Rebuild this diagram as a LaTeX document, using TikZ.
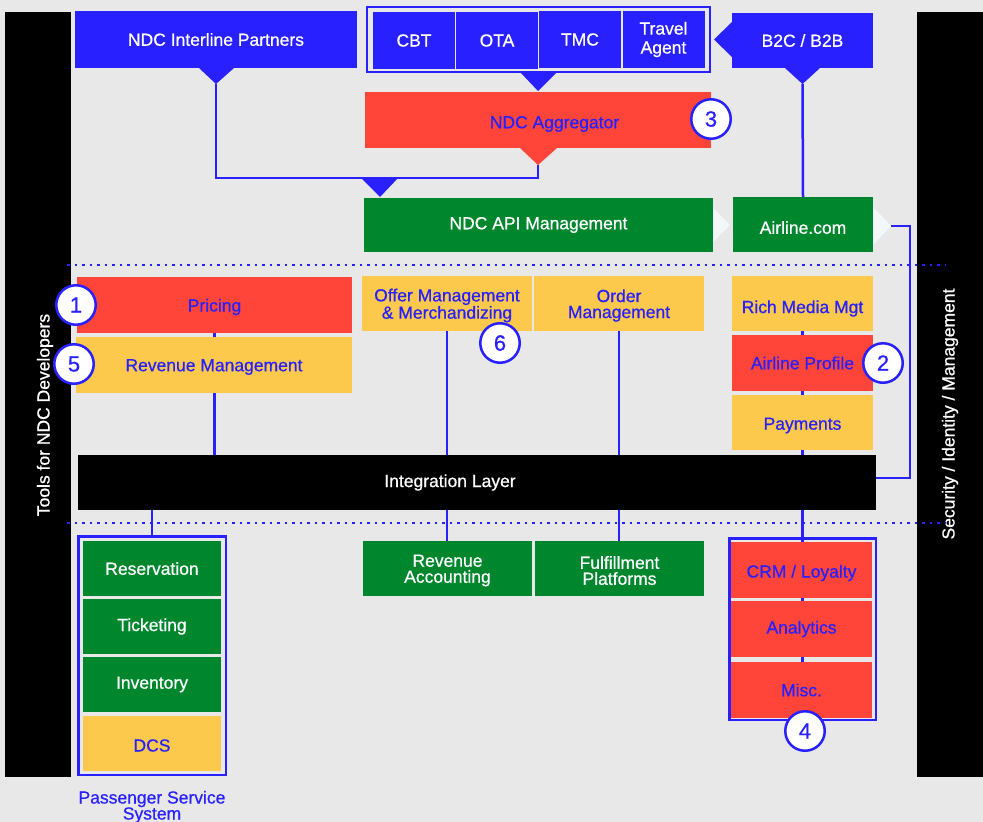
\documentclass[tikz,border=0pt]{standalone}
\usepackage{fontspec}
\setmainfont{Liberation Sans}[BoldFont={Liberation Sans},BoldFeatures={FakeBold=0.7}]
\definecolor{ndcblue}{RGB}{40,32,255}
\definecolor{ndcred}{RGB}{255,69,58}
\definecolor{ndcyellow}{RGB}{252,201,77}
\definecolor{ndcgreen}{RGB}{0,135,45}
\definecolor{ndcgrey}{RGB}{232,232,232}
\definecolor{ndcpale}{RGB}{242,248,250}
\newcommand\dropby[2]{\raisebox{-#1pt}[\height][\depth]{#2}}
\pgfdeclarelayer{back}
\pgfdeclarelayer{wires}
\pgfsetlayers{back,wires,main}

\begin{document}
\begin{tikzpicture}[x=1pt,y=-1pt,font=\fontsize{17.5}{16}\selectfont\bfseries,
    blk/.style 2 args={inner sep=0pt,outer sep=0pt,minimum width=#1pt,minimum height=#2pt,align=center},
    bluebox/.style={fill=ndcblue,text=white},
    redbox/.style={fill=ndcred,text=ndcblue},
    yellowbox/.style={fill=ndcyellow,text=ndcblue},
    greenbox/.style={fill=ndcgreen,text=white},
    groupframe/.style={draw=ndcblue,line width=2.5pt},
    link/.style={draw=ndcblue,line width=2.5pt},
    divider/.style={ndcblue,line width=2.7pt,dash pattern=on 2.7pt off 4.8pt},
    badge/.style={circle,fill=white,draw=ndcblue,line width=2.5pt,minimum size=39.5pt,inner sep=0pt,text=ndcblue,font=\fontsize{22}{22}\selectfont\bfseries}]
  \useasboundingbox (0,0) rectangle (983,822);
  \begin{pgfonlayer}{back}
    \fill[ndcgrey] (0,0) rectangle (983,822);
  \end{pgfonlayer}

  % side bars
  \node[blk={66}{765},fill=black] (toolsbar) at (38,394.5) {};
  \node[blk={66}{765},fill=black] (secbar) at (950,394.5) {};
  \node[rotate=90,text=white] (toolstext) at (45,415) {Tools for NDC Developers};
  \node[rotate=90,text=white] (sectext) at (950,414) {Security / Identity / Management};

  % channels
  \node[blk={282}{57},bluebox] (interline) at (216,39.5) {NDC Interline Partners};
  \node[blk={343}{65},groupframe,line width=2pt] (chanframe) at (538,39.5) {};
  \node[blk={82}{57},bluebox] (cbt) at (414,40.5) {CBT};
  \node[blk={82}{57},bluebox] (ota) at (497,40.5) {OTA};
  \node[blk={82}{57},bluebox] (tmc) at (580,39.5) {TMC};
  \node[blk={82}{57},bluebox,font=\fontsize{17.5}{19}\selectfont\bfseries] (travel) at (663.5,39.5) {Travel\\Agent};
  \node[blk={141}{55},bluebox] (b2c) at (802.5,40.5) {B2C / B2B};
  \node[blk={346}{56},redbox] (aggregator) at (538,120) {\hspace*{33pt}\dropby{4}{NDC Aggregator}};
  \node[blk={349}{54},greenbox] (apimgmt) at (538.5,225) {NDC API Management};
  \node[blk={140}{55},greenbox] (airline) at (803,224.5) {\dropby{3}{Airline.com}};

  % pointers
  \fill[ndcblue] (199,68) -- (216,84) -- (234,68) -- cycle;
  \fill[ndcblue] (520,72) -- (538,91) -- (557,72) -- cycle;
  \fill[ndcred] (520,148) -- (538,165) -- (557,148) -- cycle;
  \fill[ndcblue] (732,22) -- (714,39.5) -- (732,57) -- cycle;
  \fill[ndcblue] (785,68) -- (802.5,84) -- (820,68) -- cycle;
  \fill[ndcblue] (361,178) -- (380,197) -- (398,178) -- cycle;
  \fill[ndcpale] (713,208) -- (730,225) -- (713,242) -- cycle;
  \fill[ndcpale] (873,207) -- (891,226) -- (873,245) -- cycle;
  \coordinate (ipTip) at (216,84);
  \coordinate (aggTip) at (538,165);
  \coordinate (merge) at (538,178);
  \coordinate (b2cTip) at (802.5,84);
  \coordinate (alTip) at (891,226);
  \coordinate (secBend) at (910,478);

  % dividers
  \draw[divider] (67,265) -- (946,265);
  \draw[divider] (67,523) -- (946,523);

  % services
  \node[blk={275}{56},redbox] (pricing) at (214.5,305) {\dropby{2}{Pricing}};
  \node[blk={276}{56},yellowbox] (revmgmt) at (214,365) {\dropby{2}{Revenue Management}};
  \node[blk={170}{55},yellowbox] (offer) at (447,303.5) {\dropby{2}{Offer Management}\\\dropby{2}{\& Merchandizing}};
  \node[blk={170}{55},yellowbox] (order) at (619,303.5) {\dropby{2}{Order}\\\dropby{2}{Management}};
  \node[blk={141}{55},yellowbox] (richmedia) at (802.5,303.5) {\dropby{5}{Rich Media Mgt}};
  \node[blk={141}{56},redbox] (airprof) at (802.5,363) {Airline Profile};
  \node[blk={141}{55},yellowbox] (payments) at (802.5,422.5) {\dropby{3}{Payments}};
  \node[blk={798}{55},fill=black,text=white] (integ) at (477,482.5) {Integration Layer\hspace*{54pt}};

  % back end
  \node[blk={147.5}{238.5},groupframe] (pss) at (152,655.5) {};
  \node[blk={138}{55},greenbox] (reservation) at (152,568.5) {Reservation};
  \node[blk={138}{55},greenbox] (ticketing) at (152,626.5) {Ticketing};
  \node[blk={138}{55},greenbox] (inventory) at (152,684.5) {Inventory};
  \node[blk={138}{55},yellowbox] (dcs) at (152,743.5) {\dropby{2}{DCS}};
  \node[text=ndcblue,align=center] (psslabel) at (152,807) {Passenger Service\\System};
  \node[blk={169}{55},greenbox] (revacct) at (447.5,568.5) {\dropby{2}{Revenue}\\\dropby{2}{Accounting}};
  \node[blk={169}{55},greenbox] (fulfil) at (619.5,568.5) {\dropby{2}{Fulfillment}\\\dropby{2}{Platforms}};
  \node[blk={146.5}{181.5},groupframe] (crmframe) at (802.5,629) {};
  \node[blk={141}{56},redbox] (crm) at (801.5,570) {\dropby{3}{CRM / Loyalty}};
  \node[blk={141}{56},redbox] (analytics) at (801.5,629) {Analytics};
  \node[blk={141}{56},redbox] (misc) at (801.5,690) {Misc.};

  % numbers
  \node[badge] (b1) at (76,305) {1};
  \node[badge] (b2) at (883,363) {2};
  \node[badge] (b3) at (711,119) {3};
  \node[badge] (b4) at (805,731) {4};
  \node[badge] (b5) at (74,364) {5};
  \node[badge] (b6) at (500,343) {6};

  \begin{pgfonlayer}{wires}
    \draw[link] (ipTip) |- (merge) -- (aggTip);
    \draw[link] (b2cTip) -- (airline.north);
    \draw[link] (alTip) -| (secBend) -- (secBend -| integ.east);
    \draw[link] (pricing.south) -- (pricing.south |- integ.north);
    \draw[link] (offer.south) -- (offer.south |- revacct.north);
    \draw[link] (order.south) -- (order.south |- fulfil.north);
    \draw[link] (richmedia.south) -- (richmedia.south |- misc.north);
    \draw[link] (pss.north) -- (pss.north |- integ.south);
  \end{pgfonlayer}
\end{tikzpicture}
\end{document}
